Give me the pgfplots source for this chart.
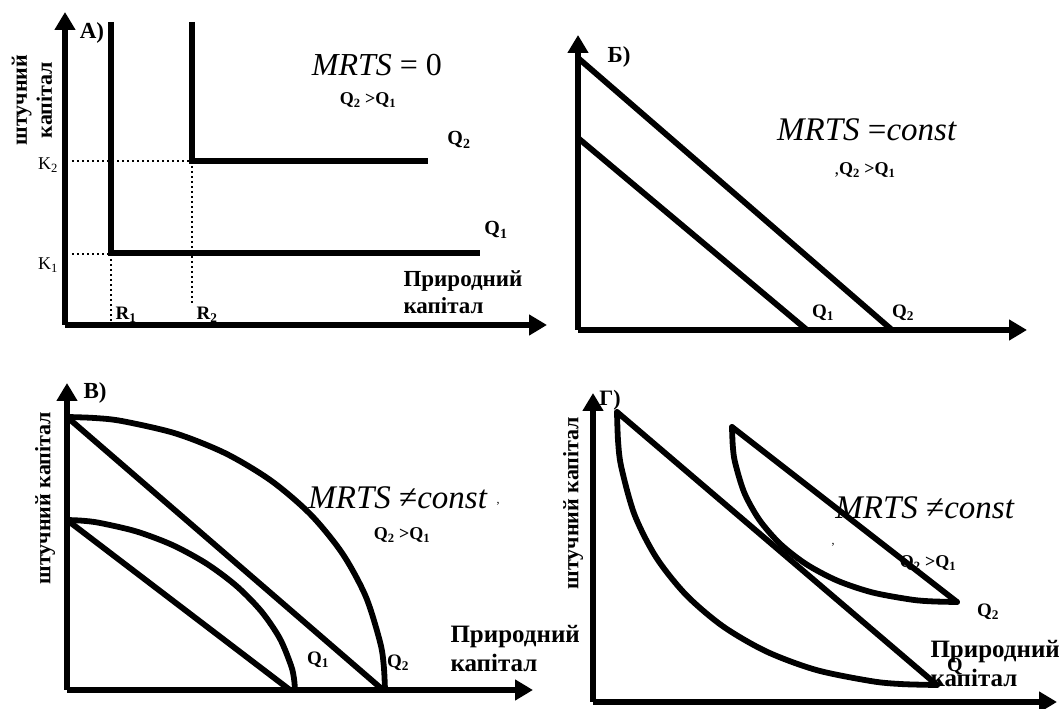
\documentclass[border=0pt]{standalone}
\usepackage{fontspec}
\setmainfont{Liberation Serif}
\usepackage{pgfplots}
\pgfplotsset{compat=1.18}
\usetikzlibrary{arrows.meta}
\pgfplotsset{
  panel/.style={x=1pt, y=1pt, enlargelimits=false, clip=false, axis lines=left,
    ticks=none, anchor=south west, axis line style={line width=5.6pt},
    x axis line style={-{Triangle[length=18pt,width=20pt]}},
    y axis line style={-{Triangle[length=18pt,width=20pt]}}},
  curve/.style={line width=5.8pt, black, no markers},
  guide/.style={line width=2.4pt, black, dash pattern=on 2.4pt off 2.6pt, no markers},
}
\newcommand{\bsize}[1]{\fontsize{#1}{1.25\dimexpr #1pt\relax}\selectfont\bfseries}
\begin{document}
\begin{tikzpicture}
\useasboundingbox (0,0) rectangle (1060pt,709pt);
% ---------------- Panel A
\begin{axis}[panel, at={(65pt,384pt)}, xmin=65, xmax=547, ymin=384, ymax=697]
\addplot[guide] coordinates {(72,548) (192,548)};
\addplot[guide] coordinates {(192,548) (192,404)};
\addplot[guide] coordinates {(72,455) (111,455)};
\addplot[guide] coordinates {(111,455) (111,387)};
\addplot[curve] coordinates {(111,687) (111,456) (480,456)};
\addplot[curve] coordinates {(192,687) (192,548) (428,548)};
\node[font=\bsize{23}] at (92,676) {А)};
\node[rotate=90, align=center, font=\fontsize{22}{25}\selectfont\bfseries] at (32,609) {штучний\\капітал};
\node[font=\fontsize{18}{20}\selectfont] at (48,544) {K\textsubscript{2}};
\node[font=\fontsize{18}{20}\selectfont] at (48,444) {K\textsubscript{1}};
\node[font=\bsize{19}] at (126,394) {R\textsubscript{1}};
\node[font=\bsize{19}] at (207,394) {R\textsubscript{2}};
\node[font=\fontsize{32}{36}\selectfont] at (377,644) {\textit{MRTS} = 0};
\node[font=\bsize{18}] at (368,609) {Q\textsubscript{2} >Q\textsubscript{1}};
\node[font=\bsize{20}] at (459,569) {Q\textsubscript{2}};
\node[font=\bsize{20}] at (496,479) {Q\textsubscript{1}};
\node[anchor=west, align=left, font=\fontsize{23}{27}\selectfont\bfseries] at (400,417) {Природний\\капітал};
\end{axis}
% ---------------- Panel B
\begin{axis}[panel, at={(578pt,379pt)}, xmin=578, xmax=1027, ymin=379, ymax=674]
\addplot[curve] coordinates {(578,651) (892,379)};
\addplot[curve] coordinates {(578,571) (807,379)};
\node[font=\bsize{23}] at (619,652) {Б)};
\node[font=\fontsize{33}{37}\selectfont] at (867,579) {\textit{MRTS} =\textit{const}};
\node[font=\bsize{18}] at (865,539) {\textmd{,}Q\textsubscript{2} >Q\textsubscript{1}};
\node[font=\bsize{19}] at (823,396) {Q\textsubscript{1}};
\node[font=\bsize{19}] at (903,396) {Q\textsubscript{2}};
\end{axis}
% ---------------- Panel V
\begin{axis}[panel, at={(67pt,19pt)}, xmin=67, xmax=533, ymin=19, ymax=326]
\addplot[curve, smooth, line cap=round] coordinates {(385,19) (383.8,42.8) (380.2,66.4) (365.8,112.4) (342.4,155.5) (310.6,194.5) (271.4,228.1) (226,255.4) (175.8,275.5) (122.2,287.9) (94.7,291) (67,292)};
\addplot[curve, line cap=round] coordinates {(67,292) (383,19)};
\addplot[curve, smooth, line cap=round] coordinates {(295,19) (294.0,30.3) (291.1,43.3) (279.8,70.6) (261.3,97.7) (236.5,123.0) (206.5,145.4) (172.6,163.9) (136.2,177.6) (99.6,186.1) (82.2,188.3) (67,189)};
\addplot[curve, line cap=round] coordinates {(67,189) (290,19)};
\node[font=\bsize{23}] at (95,316) {В)};
\node[rotate=90, font=\fontsize{22}{25}\selectfont\bfseries] at (45,211) {штучний капітал};
\node[font=\fontsize{33}{37}\selectfont] at (398,211) {\textit{MRTS} ≠\textit{const}};
\node[font=\fontsize{12}{14}\selectfont] at (498,205) {,};
\node[font=\bsize{18}] at (402,174) {Q\textsubscript{2} >Q\textsubscript{1}};
\node[font=\bsize{19}] at (318,49) {Q\textsubscript{1}};
\node[font=\bsize{19}] at (398,46) {Q\textsubscript{2}};
\node[anchor=west, align=left, font=\fontsize{25}{29}\selectfont\bfseries] at (447,60) {Природний\\капітал};
\end{axis}
% ---------------- Panel G
\begin{axis}[panel, at={(593pt,7pt)}, xmin=593, xmax=1057, ymin=7, ymax=316]
\node[font=\bsize{22}] at (610,309) {Г)};
\addplot[curve, line cap=round] coordinates {(617,297) (937,24)};
\addplot[curve, smooth, line cap=round] coordinates {(617,297) (618.1,267.3) (621.4,241.4) (634.6,194.1) (656.2,151.6) (685.9,114.3) (722.9,82.7) (766.6,57.4) (816.3,39.0) (871.8,27.8) (902.2,24.9) (937,24)};
\addplot[curve, line cap=round] coordinates {(732,282) (957,107)};
\addplot[curve, smooth, line cap=round] coordinates {(732,282) (732.8,263.0) (735.1,246.4) (744.4,216.0) (759.6,188.8) (780.4,164.9) (806.4,144.7) (837.2,128.4) (872.2,116.6) (911.2,109.4) (932.5,107.6) (957,107)};
\node[rotate=90, font=\fontsize{22}{25}\selectfont\bfseries] at (573,206) {штучний капітал};
\node[font=\fontsize{33}{37}\selectfont] at (925,201) {\textit{MRTS} ≠\textit{const}};
\node[font=\fontsize{12}{14}\selectfont] at (833,164) {,};
\node[font=\bsize{18}] at (928,146) {Q\textsubscript{2} >Q\textsubscript{1}};
\node[font=\bsize{19}] at (988,97) {Q\textsubscript{2}};
\node[font=\bsize{20}] at (955,42) {Q};
\node[anchor=west, align=left, font=\fontsize{25}{29}\selectfont\bfseries] at (927,45) {Природний\\капітал};
\end{axis}
\end{tikzpicture}
\end{document}
